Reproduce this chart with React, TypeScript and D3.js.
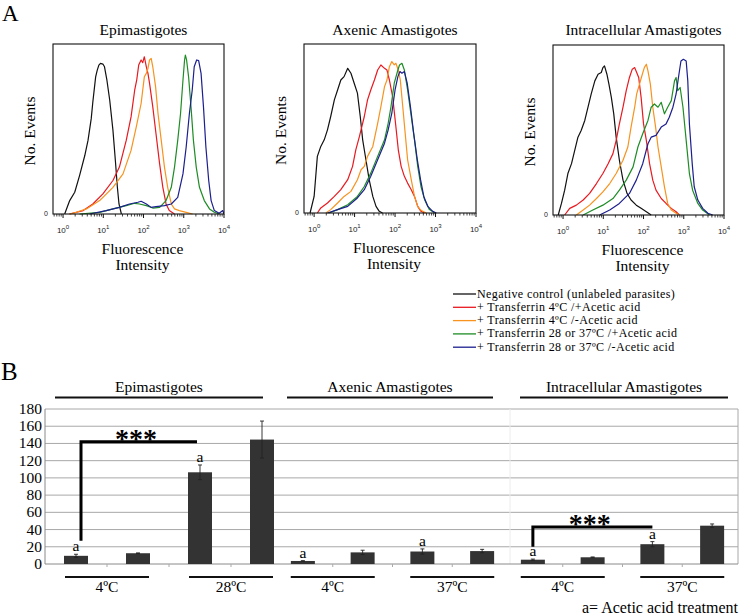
import React from 'react';
import * as d3 from 'd3';

const FONT = 'Liberation Serif, Times New Roman, Times, serif';

// ---------- Panel A: flow cytometry histograms ----------
// points: [log10 fluorescence intensity, events (% of plot height)]
const epiNeg = [[0.04,0],[0.165,7.9],[0.29,12.8],[0.41,22.6],[0.54,34.4],[0.62,43.3],[0.70,56.1],[0.74,65.9],[0.81,80.7],[0.85,84.6],[0.89,87.6],[0.93,88.6],[0.99,88.2],[1.03,86.6],[1.09,78.7],[1.16,66.9],[1.24,49.2],[1.30,31.5],[1.35,15.7],[1.39,5.9],[1.45,0]];
const epiRedP = [[0.16,0],[0.50,2],[0.74,5.9],[0.99,11.8],[1.24,19.7],[1.40,27.6],[1.57,43.3],[1.69,57.1],[1.78,72.8],[1.83,78.7],[1.88,87.6],[1.94,90.6],[1.98,89],[2.02,92.5],[2.07,86.6],[2.11,82.7],[2.15,76.8],[2.23,63],[2.31,47.2],[2.40,29.5],[2.48,15.7],[2.56,5.9],[2.64,2],[2.77,0]];
const epiOrange = [[0.165,0],[0.33,1],[0.58,3],[0.91,7.9],[1.24,15.7],[1.49,23.6],[1.69,37.4],[1.82,51.2],[1.94,65],[2.02,80.7],[2.07,82.7],[2.11,85.6],[2.15,90.6],[2.19,91.5],[2.23,86.6],[2.30,74.8],[2.36,59.1],[2.44,43.3],[2.52,27.6],[2.60,15.7],[2.69,5.9],[2.77,3],[2.89,2],[3.06,1],[3.22,0]];
const epiGreen = [[0.41,0],[0.91,1],[1.24,3],[1.57,4.9],[1.78,6.3],[1.90,5.9],[2.07,4.9],[2.23,3.5],[2.40,3.9],[2.56,7.9],[2.69,15.7],[2.77,27.6],[2.85,43.3],[2.92,59.1],[2.98,78.7],[3.02,90.6],[3.04,93.5],[3.07,90.6],[3.12,80.7],[3.18,63],[3.24,43.3],[3.31,27.6],[3.39,15.7],[3.51,7.9],[3.64,3],[3.76,1],[3.88,0]];
const epiBlue = [[0.66,0],[1.07,2],[1.40,3.9],[1.65,5.9],[1.86,6.9],[1.94,7.5],[2.07,5.9],[2.19,3.9],[2.31,4.3],[2.52,4.9],[2.69,5.9],[2.85,9.8],[2.98,23.6],[3.06,39.4],[3.14,59.1],[3.21,72.8],[3.26,86.6],[3.32,90.6],[3.37,90.2],[3.43,82.7],[3.49,63],[3.55,39.4],[3.62,19.7],[3.68,7.9],[3.76,2],[3.88,0.4],[3.97,2],[4.0,0]];

const axeNeg = [[-0.1,0],[0,9.8],[0.08,33.5],[0.165,39.4],[0.25,43.3],[0.33,49.2],[0.41,57.1],[0.5,66.9],[0.58,72.8],[0.66,78.7],[0.74,80.7],[0.83,85.6],[0.91,82.7],[0.99,76.8],[1.07,70.9],[1.14,57.1],[1.20,43.3],[1.28,31.5],[1.36,19.7],[1.45,9.8],[1.53,3.9],[1.61,1],[1.69,0]];
const axeRedP = [[0.08,0],[0.165,3],[0.33,5.9],[0.50,9.8],[0.66,13.8],[0.83,19.7],[0.95,27.6],[1.03,37.4],[1.12,45.3],[1.24,57.1],[1.32,66.9],[1.40,72.8],[1.49,78.7],[1.57,84.6],[1.65,87.6],[1.74,85.6],[1.80,84.6],[1.86,78.7],[1.94,68.9],[2.02,51.2],[2.08,37.4],[2.15,27.6],[2.23,21.7],[2.31,17.7],[2.40,13.8],[2.48,9.8],[2.56,3.9],[2.64,1],[2.73,0]];
const axeOrange = [[0.29,0],[0.41,2],[0.58,5.9],[0.74,9.8],[0.91,12.8],[1.07,19.7],[1.16,25.6],[1.24,27.6],[1.32,33.5],[1.45,39.4],[1.57,53.1],[1.65,63],[1.74,74.8],[1.80,78.7],[1.86,86.6],[1.92,89.6],[1.98,87.6],[2.02,88.6],[2.08,84.6],[2.13,78.7],[2.19,63],[2.25,47.2],[2.31,31.5],[2.40,19.7],[2.48,9.8],[2.56,3.9],[2.64,1.6],[2.77,0]];
const axeGreen = [[0.37,0],[0.58,2],[0.83,4.9],[1.07,9.8],[1.24,15.7],[1.40,23.6],[1.57,33.5],[1.74,43.3],[1.83,53.1],[1.90,63],[1.98,76.8],[2.07,84.6],[2.11,87.6],[2.17,88.6],[2.23,84.6],[2.31,72.8],[2.40,57.1],[2.48,43.3],[2.56,27.6],[2.64,15.7],[2.73,7.9],[2.85,2],[2.98,0]];
const axeBlue = [[0.33,0],[0.58,2],[0.83,3.9],[1.07,8.9],[1.24,13.8],[1.40,21.7],[1.57,31.5],[1.74,41.3],[1.83,49.2],[1.92,59.1],[2.0,72.8],[2.07,80.7],[2.12,83.7],[2.17,82.7],[2.23,83.7],[2.30,76.8],[2.38,63],[2.46,47.2],[2.55,31.5],[2.63,19.7],[2.71,9.8],[2.81,3.9],[2.93,1],[3.02,0]];

const intNeg = [[-0.12,0],[-0.04,6.8],[0.04,14.6],[0.12,24.4],[0.21,30.2],[0.29,38],[0.37,45.8],[0.45,49.7],[0.54,55.6],[0.62,63.4],[0.70,71.2],[0.79,78.9],[0.87,82.8],[0.95,83.8],[0.99,86.7],[1.03,87.7],[1.09,82.8],[1.14,77],[1.20,69.2],[1.26,59.5],[1.32,45.8],[1.40,32.2],[1.49,20.5],[1.59,12.7],[1.69,8.8],[1.82,5.8],[1.94,3.9],[2.07,1.9],[2.19,0]];
const intRedP = [[0.04,0],[0.165,3.9],[0.33,5.8],[0.50,8.8],[0.66,12.7],[0.83,18.5],[0.99,24.4],[1.12,30.2],[1.24,36.1],[1.32,43.9],[1.40,53.6],[1.49,63.4],[1.57,73.1],[1.65,80.9],[1.72,85.8],[1.78,86.7],[1.83,83.8],[1.88,80.9],[1.94,69.2],[2.0,53.6],[2.07,43.9],[2.15,30.2],[2.23,20.5],[2.31,14.6],[2.44,9.7],[2.56,6.8],[2.69,3.9],[2.81,1.9],[2.89,0]];
const intOrange = [[0.33,0],[0.5,2.9],[0.66,5.8],[0.83,9.7],[0.99,13.6],[1.16,18.5],[1.32,24.4],[1.49,32.2],[1.61,40],[1.69,51.7],[1.78,63.4],[1.83,71.2],[1.90,77],[1.97,82.8],[2.02,86.7],[2.07,88.7],[2.11,84.8],[2.17,77],[2.23,63.4],[2.30,51.7],[2.36,40],[2.44,28.3],[2.52,16.6],[2.60,6.8],[2.69,2.9],[2.81,1],[2.89,0]];
const intGreen = [[0.5,0],[0.74,2.9],[0.99,5.8],[1.24,9.7],[1.40,14.6],[1.57,20.5],[1.74,28.3],[1.86,40],[1.98,47.8],[2.11,55.6],[2.19,63.4],[2.27,65.3],[2.36,63.4],[2.44,66.3],[2.52,59.5],[2.60,63.4],[2.69,67.3],[2.77,78.9],[2.81,80.9],[2.85,73.1],[2.91,75],[2.98,63.4],[3.06,43.9],[3.14,24.4],[3.22,14.6],[3.35,6.8],[3.47,2.9],[3.64,0]];
const intBlue = [[0.91,0],[1.16,2.9],[1.40,6.8],[1.65,12.7],[1.82,20.5],[1.98,30.2],[2.11,41.9],[2.19,45.8],[2.31,46.8],[2.44,51.7],[2.56,53.6],[2.64,57.5],[2.73,63.4],[2.81,71.2],[2.88,82.8],[2.93,90.6],[2.99,91.6],[3.06,90.6],[3.10,78.9],[3.14,53.6],[3.21,30.2],[3.26,16.6],[3.35,8.8],[3.47,3.9],[3.60,1],[3.72,0]];

const histTitles = ['Epimastigotes', 'Axenic Amastigotes', 'Intracellular Amastigotes'];
const histCurves = [
  [epiNeg, epiRedP, epiOrange, epiGreen, epiBlue],
  [axeNeg, axeRedP, axeOrange, axeGreen, axeBlue],
  [intNeg, intRedP, intOrange, intGreen, intBlue],
];
const logTicks = [0, 1, 2, 3, 4];
const curveColors = ['#111111', '#e8191f', '#f7931e', '#1e8c25', '#1c1f8e'];
const legendLabels = [
  'Negative control (unlabeled parasites)',
  '+ Transferrin 4ºC /+Acetic acid',
  '+ Transferrin 4ºC /-Acetic acid',
  '+ Transferrin 28 or 37ºC /+Acetic acid',
  '+ Transferrin 28 or 37ºC /-Acetic acid',
];

// ---------- Panel B: bar chart ----------
const groupNames = ['Epimastigotes', 'Axenic Amastigotes', 'Intracellular Amastigotes'];
const tempLabels = [['4ºC', '28ºC'], ['4ºC', '37ºC'], ['4ºC', '37ºC']];
const barIds = ['lowAcid', 'low', 'highAcid', 'high'];
const epiValues = [9.5, 12.5, 106.5, 144.5];
const epiErrors = [1.8, 0.4, 8.5, 21.5];
const axeValues = [3.5, 13.5, 14.5, 15];
const axeErrors = [0.4, 2.5, 3, 2];
const intValues = [5, 7.8, 23, 44.5];
const intErrors = [0.7, 0.4, 3, 2];
const aceticFlags = [true, false, true, false];
const yTicks = [0, 20, 40, 60, 80, 100, 120, 140, 160, 180];
// [group, fromBar, toBar, lowValue, highValue]
const sigBrackets = [[0, 0, 2, 27, 142], [2, 0, 2, 20, 43]];

const groupValues = [epiValues, axeValues, intValues];
const groupErrors = [epiErrors, axeErrors, intErrors];

const serif: React.CSSProperties = { fontFamily: FONT };

function Histogram({ idx, x0, x1, top, base }: any) {
  const xs = d3.scaleLinear().domain([-0.25, 4]).range([x0, x1]);
  const ys = d3.scaleLinear().domain([0, 100]).range([base, top]);
  const line = d3.line<number[]>().x(d => xs(d[0])).y(d => ys(d[1]));
  const minor: number[] = [];
  for (let k = -1; k < 4; k++) for (let m = 2; m <= 9; m++) {
    const v = k + Math.log10(m);
    if (v >= -0.25 && v <= 4) minor.push(v);
  }
  const cx = (x0 + x1) / 2;
  return (
    <g>
      <defs>
        <clipPath id={'clip' + idx}><rect x={x0} y={top} width={x1 - x0} height={base - top + 1} /></clipPath>
      </defs>
      <text x={cx + 5} y={35} textAnchor="middle" fontSize={15.5} style={serif}>{histTitles[idx]}</text>
      <g clipPath={`url(#clip${idx})`}>
        {histCurves[idx].map((c, i) => (
          <path key={i} d={line(c as any) || ''} fill="none" stroke={curveColors[i]} strokeWidth={1.2} strokeLinejoin="round" />
        ))}
      </g>
      <rect x={x0} y={top} width={x1 - x0} height={base - top} fill="none" stroke="#111" strokeWidth={1.1} />
      {logTicks.map(t => (
        <g key={t}>
          <line x1={xs(t)} x2={xs(t)} y1={base} y2={base + 4} stroke="#111" strokeWidth={1} />
          <text x={xs(t)} y={base + 19} textAnchor="middle" fontSize={8} style={{ fontFamily: 'Liberation Sans, Arial, sans-serif' }} fill="#222">10<tspan dy={-4} fontSize={6}>{t}</tspan></text>
        </g>
      ))}
      {minor.map((t, i) => (
        <line key={i} x1={xs(t)} x2={xs(t)} y1={base} y2={base + 2.5} stroke="#111" strokeWidth={0.8} />
      ))}
      <text x={x0 - 9} y={base + 2} fontSize={7} style={{ fontFamily: 'Liberation Sans, Arial, sans-serif' }} fill="#222">0</text>
      <text transform={`translate(${x0 - 18},${(top + base) / 2 + 2}) rotate(-90)`} textAnchor="middle" fontSize={15.5} style={serif}>No. Events</text>
      <text x={cx + 4} y={base + 40} textAnchor="middle" fontSize={15.5} style={serif}>Fluorescence</text>
      <text x={cx + 4} y={base + 56} textAnchor="middle" fontSize={15.5} style={serif}>Intensity</text>
    </g>
  );
}

export default function App() {
  const histLayout = [
    { x0: 53, x1: 224, top: 44, base: 214 },
    { x0: 304, x1: 476, top: 44, base: 213 },
    { x0: 553, x1: 724, top: 45, base: 215 },
  ];
  const plotL = 45, plotR = 738;
  const y = d3.scaleLinear().domain([0, 180]).range([564, 409]);
  const groupRanges = [[45, 293], [273, 512], [503, 742]];
  const xScales = groupRanges.map(r => d3.scalePoint<string>().domain(barIds).range(r as [number, number]).padding(0.5));
  const bw = 24;
  const titleLines = [[55, 263], [287, 493], [520, 728]];

  return (
    <svg width={740} height={616} style={{ position: 'absolute', left: 0, top: 0, background: '#fff' }}>
      <rect width={740} height={616} fill="#fff" />
      <text x={2} y={21} fontSize={23} style={serif}>A</text>
      {histLayout.map((l, i) => <Histogram key={i} idx={i} {...l} />)}

      {legendLabels.map((lab, i) => {
        const yy = 293 + i * 13.3;
        return (
          <g key={i}>
            <line x1={453} x2={476} y1={yy + 1} y2={yy + 1} stroke={curveColors[i]} strokeWidth={1.3} />
            <text x={477} y={yy + 4.5} fontSize={12} letterSpacing={0.4} style={serif}>{lab}</text>
          </g>
        );
      })}

      <text x={1} y={380} fontSize={25} style={serif}>B</text>
      {groupNames.map((g, i) => (
        <g key={g}>
          <text x={(titleLines[i][0] + titleLines[i][1]) / 2} y={392} textAnchor="middle" fontSize={15.5} style={serif}>{g}</text>
          <line x1={titleLines[i][0]} x2={titleLines[i][1]} y1={397.5} y2={397.5} stroke="#111" strokeWidth={1.8} />
        </g>
      ))}

      {yTicks.map(t => (
        <g key={t}>
          {t > 0 && <line x1={plotL} x2={plotR} y1={y(t)} y2={y(t)} stroke="#a8a8a8" strokeWidth={1} />}
          <text x={42} y={y(t) + 5} textAnchor="end" fontSize={15.5} style={serif}>{t}</text>
        </g>
      ))}
      <line x1={510} x2={510} y1={y(180)} y2={y(0)} stroke="#ececec" strokeWidth={1} />
      <line x1={plotR} x2={plotR} y1={y(180)} y2={y(0)} stroke="#a8a8a8" strokeWidth={1} />
      <line x1={plotL} x2={plotL} y1={y(180)} y2={y(0)} stroke="#8a8a8a" strokeWidth={1} />
      <line x1={plotL} x2={plotR} y1={y(0)} y2={y(0)} stroke="#8a8a8a" strokeWidth={1} />

      {xScales.map((xs, gi) => {
        const ids = barIds;
        const step = xs.step();
        return (
          <g key={gi}>
            {ids.slice(1).map(id => (
              <line key={id} x1={xs(id)! - step / 2} x2={xs(id)! - step / 2} y1={y(0)} y2={y(0) + 3} stroke="#aaa" strokeWidth={1} />
            ))}
            {ids.map((id, bi) => {
              const cx = xs(id)!;
              const v = groupValues[gi][bi];
              const e = groupErrors[gi][bi];
              return (
                <g key={id}>
                  <rect x={cx - bw / 2} y={y(v)} width={bw} height={y(0) - y(v)} fill="#333333" />
                  <line x1={cx} x2={cx} y1={y(v + e)} y2={y(v - e)} stroke="#222" strokeWidth={0.9} />
                  <line x1={cx - 2} x2={cx + 2} y1={y(v + e)} y2={y(v + e)} stroke="#222" strokeWidth={0.9} />
                  <line x1={cx - 2} x2={cx + 2} y1={y(v - e)} y2={y(v - e)} stroke="#222" strokeWidth={0.9} />
                  {aceticFlags[bi] && (
                    <text x={cx} y={y(v + e) - 3} textAnchor="middle" fontSize={15.5} style={serif}>a</text>
                  )}
                </g>
              );
            })}
            {tempLabels[gi].map((lab, ti) => {
              const c = ((xs(ids[ti * 2])! + xs(ids[ti * 2 + 1])!) / 2);
              return (
                <g key={ti}>
                  <line x1={c - 42} x2={c + 42} y1={577} y2={577} stroke="#111" strokeWidth={1.8} />
                  <text x={c} y={592} textAnchor="middle" fontSize={15.5} style={serif}>{lab}</text>
                </g>
              );
            })}
          </g>
        );
      })}

      {sigBrackets.map((b, i) => {
        const xs = xScales[b[0]];
        const xa = xs(barIds[b[1]])! + (b[0] === 0 ? 5 : 0);
        const xb = xs(barIds[b[2]])! - (b[0] === 0 ? 3 : 0);
        const yl = y(b[3]);
        const yh = y(b[4]);
        return (
          <g key={i}>
            <path d={`M${xa},${yl}V${yh}H${xb}`} fill="none" stroke="#000" strokeWidth={3} />
            <text x={(xa + xb) / 2 - 3} y={yh + 6} textAnchor="middle" fontSize={28} fontWeight="bold" style={serif}>***</text>
          </g>
        );
      })}

      <text x={738} y={613} textAnchor="end" fontSize={16} style={serif}>a= Acetic acid treatment</text>
    </svg>
  );
}
